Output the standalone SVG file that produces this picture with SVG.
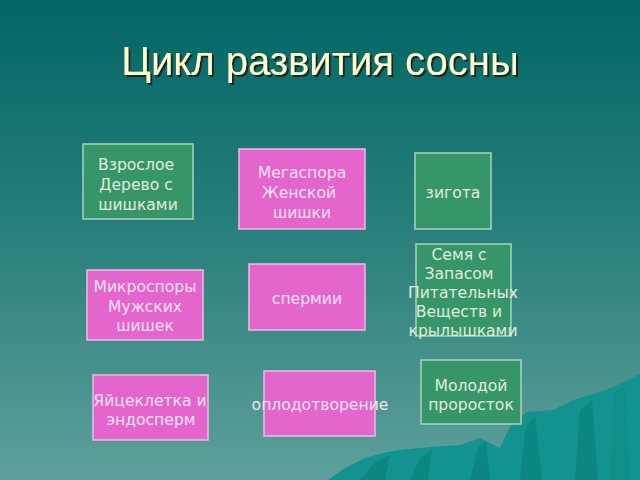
<svg xmlns="http://www.w3.org/2000/svg" width="640" height="480" viewBox="0 0 640 480">
<defs>
<linearGradient id="bg" x1="0" y1="0" x2="0" y2="1">
<stop offset="0" stop-color="#016664"/>
<stop offset="0.5" stop-color="#2a807c"/>
<stop offset="1" stop-color="#5fa09c"/>
</linearGradient>
<filter id="sh" x="-5%" y="-20%" width="110%" height="140%">
<feDropShadow dx="2" dy="2" stdDeviation="0.6" flood-color="#1a1a1a" flood-opacity="0.9"/>
</filter>
<style>
.g{fill:#36966a;stroke:#a8d4bc;stroke-width:1.5}
.p{fill:#e466cc;stroke:#e8c0e0;stroke-width:1.5}
.t{font-family:"DejaVu Sans",sans-serif;font-size:15.6px;fill:#e2ecdc;text-anchor:middle}
.tp{fill:#f6e2f0}
</style>
</defs>
<rect width="640" height="480" fill="url(#bg)"/>
<g id="mountains">
<polygon fill="#12938f" points="328,480 345,468 365,458 387,452 400,450 430,447 460,445 480,438 500,448 510,427 527,412 553,410 573,400 597,393 613,387 627,380 640,374 640,480"/>
<polygon fill="#0b8682" points="360,480 375,462 390,455 385,480"/>
<polygon fill="#0b8682" points="410,480 420,458 432,450 428,480"/>
<polygon fill="#0b8682" points="470,480 478,448 486,442 490,480"/>
<polygon fill="#0b8682" points="520,480 525,430 535,416 542,480"/>
<polygon fill="#0b8682" points="575,480 580,410 592,400 598,480"/>
<polygon fill="#0f8e8a" points="610,480 615,392 625,386 630,480"/>
</g>
<text x="320" y="75" font-family="Liberation Sans, Arial, sans-serif" font-size="40" fill="#ffffcc" text-anchor="middle" filter="url(#sh)">Цикл развития сосны</text>
<g id="connectors"></g>
<g id="n1"><rect class="g" x="83" y="144" width="110" height="75"/>
<text class="t" x="136" y="170">Взрослое</text><text class="t" x="136" y="190">Дерево с</text><text class="t" x="138" y="210">шишками</text></g>
<g id="n2"><rect class="p" x="239" y="149" width="126" height="80"/>
<text class="t tp" x="302" y="178">Мегаспора</text><text class="t tp" x="299" y="198">Женской</text><text class="t tp" x="302" y="218">шишки</text></g>
<g id="n3"><rect class="g" x="415" y="153" width="76" height="76"/>
<text class="t" x="453" y="198">зигота</text></g>
<g id="n4"><rect class="g" x="416" y="244" width="95" height="92"/>
<text class="t" x="459" y="260">Семя с</text><text class="t" x="459" y="279">Запасом</text><text class="t" x="463" y="298">Питательных</text><text class="t" x="459" y="317">Веществ и</text><text class="t" x="463" y="336">крылышками</text></g>
<g id="n5"><rect class="p" x="87" y="270" width="116" height="70"/>
<text class="t tp" x="145" y="292">Микроспоры</text><text class="t tp" x="145" y="312">Мужских</text><text class="t tp" x="145" y="331">шишек</text></g>
<g id="n6"><rect class="p" x="249" y="264" width="116" height="66"/>
<text class="t tp" x="307" y="304">спермии</text></g>
<g id="n7"><rect class="p" x="93" y="375" width="115" height="65"/>
<text class="t tp" x="150" y="406">Яйцеклетка и</text><text class="t tp" x="151" y="425">эндосперм</text></g>
<g id="n8"><rect class="p" x="264" y="371" width="111" height="65"/>
<text class="t tp" x="320" y="410">оплодотворение</text></g>
<g id="n9"><rect class="g" x="421" y="360" width="100" height="64"/>
<text class="t" x="471" y="391">Молодой</text><text class="t" x="471" y="410">проросток</text></g>
</svg>
